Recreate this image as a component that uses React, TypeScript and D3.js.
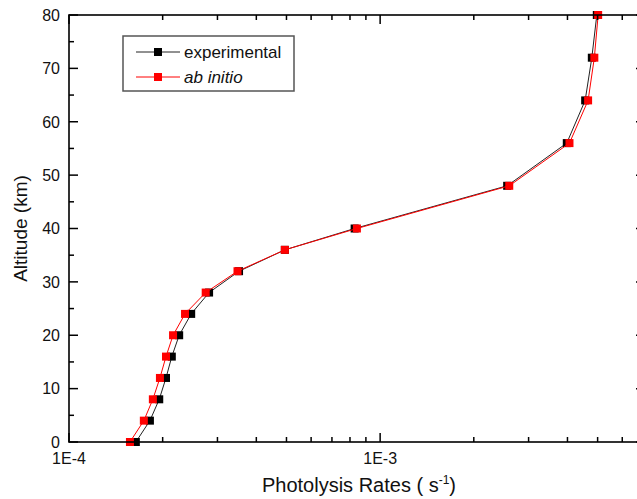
import React from "react";
import * as d3 from "d3";

const altitudes = [0, 4, 8, 12, 16, 20, 24, 28, 32, 36, 40, 48, 56, 64, 72, 80];
const experimental = [1.64e-4, 1.82e-4, 1.95e-4, 2.05e-4, 2.14e-4, 2.26e-4, 2.47e-4, 2.82e-4, 3.52e-4, 4.94e-4, 8.28e-4, 2.56e-3, 3.98e-3, 4.56e-3, 4.79e-3, 4.97e-3];
const abInitio = [1.57e-4, 1.74e-4, 1.86e-4, 1.96e-4, 2.05e-4, 2.16e-4, 2.36e-4, 2.75e-4, 3.48e-4, 4.94e-4, 8.42e-4, 2.6e-3, 4.06e-3, 4.66e-3, 4.88e-3, 5.02e-3];
const yTicks = [0, 10, 20, 30, 40, 50, 60, 70, 80];
const yMinorTicks = [5, 15, 25, 35, 45, 55, 65, 75];
const xMajorTicks = [1e-4, 1e-3];
const xMajorLabels = ["1E-4", "1E-3"];
const xMinorTicks = [2e-4, 3e-4, 4e-4, 5e-4, 6e-4, 7e-4, 8e-4, 9e-4, 2e-3, 3e-3, 4e-3, 5e-3, 6e-3, 7e-3];

const W = 637;
const H = 499;
const L = 69, R = 645, T = 15, B = 442;
const FONT = "Arial, 'Liberation Sans', Helvetica, sans-serif";

export default function App() {
  const x = d3.scaleLog().domain([1e-4, 7.1e-3]).range([L, R]);
  const y = d3.scaleLinear().domain([0, 80]).range([B, T]);
  const line = d3.line<[number, number]>().x((d) => x(d[0])).y((d) => y(d[1]));
  const expPts: [number, number][] = experimental.map((v, i) => [v, altitudes[i]]);
  const abPts: [number, number][] = abInitio.map((v, i) => [v, altitudes[i]]);
  const ms = 8;
  const major = 9, minor = 5;

  return (
    <svg width={W} height={H} style={{ position: "absolute", left: 0, top: 0, background: "#fff" }} fontFamily={FONT}>
      <rect x={0} y={0} width={W} height={H} fill="#fff" />
      {/* series */}
      <path d={line(expPts) || ""} fill="none" stroke="#222" strokeWidth={1} />
      {expPts.map((p, i) => (
        <rect key={"e" + i} x={x(p[0]) - ms / 2} y={y(p[1]) - ms / 2} width={ms} height={ms} fill="#000" />
      ))}
      <path d={line(abPts) || ""} fill="none" stroke="#ff0000" strokeWidth={1} />
      {abPts.map((p, i) => (
        <rect key={"a" + i} x={x(p[0]) - ms / 2} y={y(p[1]) - ms / 2} width={ms} height={ms} fill="#ff0000" />
      ))}
      {/* frame */}
      <rect x={L} y={T} width={R - L} height={B - T} fill="none" stroke="#000" strokeWidth={1.6} />
      {/* y ticks */}
      {yTicks.map((t) => (
        <g key={"yt" + t}>
          <line x1={L} x2={L + major} y1={y(t)} y2={y(t)} stroke="#000" strokeWidth={1.5} />
          <line x1={R} x2={R - major} y1={y(t)} y2={y(t)} stroke="#000" strokeWidth={1.5} />
          <text x={L - 9} y={y(t)} dy="0.36em" textAnchor="end" fontSize={16} fill="#111">{t}</text>
        </g>
      ))}
      {yMinorTicks.map((t) => (
        <g key={"ym" + t}>
          <line x1={L} x2={L + minor} y1={y(t)} y2={y(t)} stroke="#000" strokeWidth={1.5} />
          <line x1={R} x2={R - minor} y1={y(t)} y2={y(t)} stroke="#000" strokeWidth={1.5} />
        </g>
      ))}
      {/* x ticks */}
      {xMajorTicks.map((t, i) => (
        <g key={"xt" + t}>
          <line x1={x(t)} x2={x(t)} y1={B} y2={B - major} stroke="#000" strokeWidth={1.5} />
          <line x1={x(t)} x2={x(t)} y1={T} y2={T + major} stroke="#000" strokeWidth={1.5} />
          <text x={x(t)} y={464} textAnchor="middle" fontSize={16} fill="#111">{xMajorLabels[i]}</text>
        </g>
      ))}
      {xMinorTicks.map((t) => (
        <g key={"xm" + t}>
          <line x1={x(t)} x2={x(t)} y1={B} y2={B - minor} stroke="#000" strokeWidth={1.5} />
          <line x1={x(t)} x2={x(t)} y1={T} y2={T + minor} stroke="#000" strokeWidth={1.5} />
        </g>
      ))}
      {/* axis titles */}
      <text transform={`translate(27,${(T + B) / 2}) rotate(-90)`} textAnchor="middle" fontSize={19} fill="#111">Altitude (km)</text>
      <text x={359} y={492} textAnchor="middle" fontSize={20} fill="#111">
        Photolysis Rates ( s<tspan dy={-8} fontSize={12}>-1</tspan><tspan dy={8}>)</tspan>
      </text>
      {/* legend */}
      <rect x={123} y={36} width={171} height={55} fill="#fff" stroke="#555" strokeWidth={1.5} />
      <line x1={136} x2={180} y1={52} y2={52} stroke="#222" strokeWidth={1} />
      <rect x={158 - ms / 2} y={52 - ms / 2} width={ms} height={ms} fill="#000" />
      <text x={184} y={52} dy="0.35em" fontSize={17} fill="#111">experimental</text>
      <line x1={136} x2={180} y1={77} y2={77} stroke="#ff0000" strokeWidth={1} />
      <rect x={158 - ms / 2} y={77 - ms / 2} width={ms} height={ms} fill="#ff0000" />
      <text x={184} y={77} dy="0.35em" fontSize={17} fontStyle="italic" fill="#111">ab initio</text>
    </svg>
  );
}
